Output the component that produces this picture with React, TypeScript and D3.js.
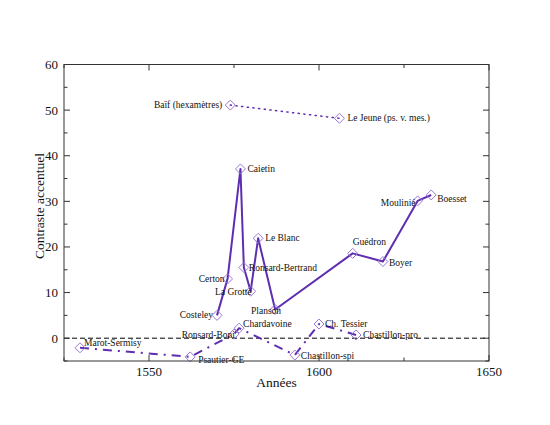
import React from "react";
import * as d3 from "d3";

// --- data ---
const solidNames = ["Costeley", "Certon", "Caietin", "Ronsard-Bertrand", "La Grotte", "Le Blanc", "Planson", "Guédron", "Boyer", "Moulinié", "Boesset"];
const solidYears = [1570.0, 1573.1, 1576.9, 1577.9, 1579.9, 1582.1, 1587.1, 1609.9, 1618.8, 1629.0, 1633.0];
const solidValues = [5.0, 13.0, 37.1, 15.5, 10.3, 21.9, 6.3, 18.6, 16.8, 30.1, 31.4];

const dottedNames = ["Baïf (hexamètres)", "Le Jeune (ps. v. mes.)"];
const dottedYears = [1573.9, 1606.0];
const dottedValues = [51.1, 48.2];

const dashDotNames = ["Marot-Sermisy", "Psautier-GE", "Ronsard-Boni", "Chardavoine", "Chastillon-spi", "Ch. Tessier", "Chastillon-pro"];
const dashDotYears = [1529.7, 1562.1, 1575.0, 1576.5, 1592.9, 1600.0, 1610.9];
const dashDotValues = [-2.1, -4.1, 0.9, 2.2, -3.7, 3.1, 0.7];

const xMajorTicks = [1550, 1600, 1650];
const xMinorTicks = [1525, 1575, 1625];
const yMajorTicks = [0, 10, 20, 30, 40, 50, 60];
const yMinorTicks = [-5, 5, 15, 25, 35, 45, 55];

const xTitle = "Années";
const yTitle = "Contraste accentuel";

// label placement: [dx, dy, anchor]
const labelPlacement: Record<string, [number, number, string]> = {
  "Costeley": [-4, 3, "end"],
  "Certon": [-3, 3, "end"],
  "Caietin": [7, 3, "start"],
  "Ronsard-Bertrand": [5, 4, "start"],
  "La Grotte": [1, 4, "end"],
  "Le Blanc": [7, 3, "start"],
  "Planson": [6, 5, "end"],
  "Guédron": [0, -8, "start"],
  "Boyer": [6, 4, "start"],
  "Moulinié": [-2, 5, "end"],
  "Boesset": [6, 7, "start"],
  "Baïf (hexamètres)": [-8, 3, "end"],
  "Le Jeune (ps. v. mes.)": [8, 3, "start"],
  "Marot-Sermisy": [4, -2, "start"],
  "Psautier-GE": [8, 6, "start"],
  "Ronsard-Boni": [1, 4, "end"],
  "Chardavoine": [4, -1, "start"],
  "Chastillon-spi": [6, 4, "start"],
  "Ch. Tessier": [6, 3, "start"],
  "Chastillon-pro": [7, 3, "start"],
};

const W = 550, H = 425;
const left = 64, right = 489, top = 64.5, bottom = 361;
const FONT = "Liberation Serif, Times New Roman, serif";
const LINE = "#5e2eb0";
const MARK = "#9a78d6";

export default function App() {
  const x = d3.scaleLinear().domain([1525, 1650]).range([left, right]);
  const y = d3.scaleLinear().domain([-5, 60]).range([bottom, top]);
  const line = d3.line<[number, number]>().x((d) => x(d[0])).y((d) => y(d[1]));

  const series = [
    { names: solidNames, years: solidYears, values: solidValues, dash: undefined as string | undefined, width: 2, cap: "butt" },
    { names: dottedNames, years: dottedYears, values: dottedValues, dash: "1.2,4.5", width: 1.5, cap: "round" },
    { names: dashDotNames, years: dashDotYears, values: dashDotValues, dash: "9,6,2,6", width: 2, cap: "butt" },
  ];

  const diamond = (cx: number, cy: number) => {
    const r = 5;
    return `M${cx},${cy - r}L${cx + r},${cy}L${cx},${cy + r}L${cx - r},${cy}Z`;
  };

  const ts = { fontFamily: FONT } as React.CSSProperties;

  return (
    <svg width={W} height={H} style={{ position: "absolute", left: 0, top: 0, background: "#fff", fontFamily: FONT }}>
      <rect x={0} y={0} width={W} height={H} fill="#fff" />
      {/* zero line */}
      <line x1={left} x2={right} y1={y(0)} y2={y(0)} stroke="#000" strokeWidth={1} strokeDasharray="5,3" />
      {/* series lines */}
      {series.map((s, i) => (
        <path
          key={"l" + i}
          d={line(s.years.map((yr, j) => [yr, s.values[j]] as [number, number])) || ""}
          fill="none"
          stroke={LINE}
          strokeWidth={s.width}
          strokeDasharray={s.dash}
          strokeLinecap={s.cap as any}
          strokeLinejoin="round"
        />
      ))}
      {/* markers */}
      {series.map((s, i) =>
        s.years.map((yr, j) => (
          <path key={"m" + i + "-" + j} d={diamond(x(yr), y(s.values[j]))} fill="none" stroke={MARK} strokeWidth={1} />
        ))
      )}
      {/* labels */}
      {series.map((s, i) =>
        s.names.map((n, j) => {
          const p = labelPlacement[n] || [6, 3, "start"];
          return (
            <text key={"t" + i + "-" + j} style={ts} x={x(s.years[j]) + p[0]} y={y(s.values[j]) + p[1]} fontSize={9.5} textAnchor={p[2] as any} fill="#111">
              {n}
            </text>
          );
        })
      )}
      {/* frame */}
      <rect x={left} y={top} width={right - left} height={bottom - top} fill="none" stroke="#333" strokeWidth={1} />
      {/* x ticks */}
      {xMajorTicks.map((t) => (
        <g key={"xM" + t}>
          <line x1={x(t)} x2={x(t)} y1={bottom} y2={bottom - 6} stroke="#333" />
          <line x1={x(t)} x2={x(t)} y1={top} y2={top + 6} stroke="#333" />
          <text style={ts} x={x(t)} y={bottom + 15} fontSize={13} textAnchor="middle" fill="#111">{t}</text>
        </g>
      ))}
      {xMinorTicks.map((t) => (
        <g key={"xm" + t}>
          <line x1={x(t)} x2={x(t)} y1={bottom} y2={bottom - 3.5} stroke="#333" />
          <line x1={x(t)} x2={x(t)} y1={top} y2={top + 3.5} stroke="#333" />
        </g>
      ))}
      {/* y ticks */}
      {yMajorTicks.map((t) => (
        <g key={"yM" + t}>
          <line x1={left} x2={left + 6} y1={y(t)} y2={y(t)} stroke="#333" />
          <line x1={right} x2={right - 6} y1={y(t)} y2={y(t)} stroke="#333" />
          <text style={ts} x={left - 6} y={y(t) + 4.5} fontSize={13} textAnchor="end" fill="#111">{t}</text>
        </g>
      ))}
      {yMinorTicks.map((t) => (
        <g key={"ym" + t}>
          <line x1={left} x2={left + 3.5} y1={y(t)} y2={y(t)} stroke="#333" />
          <line x1={right} x2={right - 3.5} y1={y(t)} y2={y(t)} stroke="#333" />
        </g>
      ))}
      {/* axis titles */}
      <text style={ts} x={(left + right) / 2} y={387} fontSize={13.5} textAnchor="middle" fill="#111">{xTitle}</text>
      <text style={ts} transform={`translate(44,206) rotate(-90)`} fontSize={13.5} textAnchor="middle" fill="#111">{yTitle}</text>
    </svg>
  );
}
